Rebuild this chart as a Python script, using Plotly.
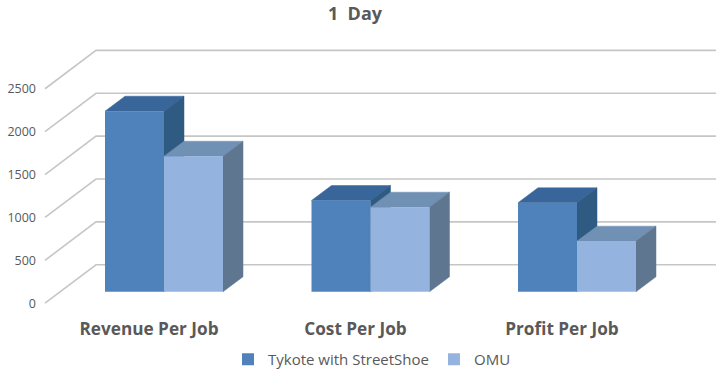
import plotly.graph_objects as go

title = "1 Day"
categories = ["Revenue Per Job", "Cost Per Job", "Profit Per Job"]
series_names = ["Tykote with StreetShoe", "OMU"]
tykote = [2105, 1064, 1037]
omu = [1580, 986, 590]
y_ticks = [0, 500, 1000, 1500, 2000, 2500]

# colours: front, top, side
FACE = [("#4f82bb", "#38659a", "#2f5a82"), ("#94b4df", "#7090b4", "#5f7691")]
GRID = "#c6c6c6"
TEXT = "#595959"

W, H = 720, 376
PLOT_H = 315          # plot frame height from the top of the page
PX_CAT = 206.5        # px per category
PX_500 = 43.0         # px per 500 units
ux = 1 / PX_CAT       # category units per px
uy = 500 / PX_500     # value units per px

CAT0_AXIS = 149       # px of the first category centre on the front axis plane
ZERO_AXIS = 304       # px of value 0 on the front axis plane
BAR_DX, BAR_DY = 15, 11.5     # bars' front plane offset from the axis plane
WALL_DX, WALL_DY = 51, 38.5   # back wall offset from the axis plane
DEPTH_DX, DEPTH_DY = 20, 15   # bar depth
AXIS_LEFT = 45
WALL_W = 620
BAR_W = 59 * ux

xr = [(0 - CAT0_AXIS) * ux, (W - CAT0_AXIS) * ux]
yr = [(ZERO_AXIS - PLOT_H) * uy, ZERO_AXIS * uy]

fig = go.Figure()

# back wall gridlines and their slanted floor/side parts
gx0 = (AXIS_LEFT - CAT0_AXIS) * ux
for t in y_ticks:
    fig.add_trace(go.Scatter(
        x=[gx0, gx0 + WALL_DX * ux, gx0 + (WALL_DX + WALL_W) * ux],
        y=[t, t + WALL_DY * uy, t + WALL_DY * uy],
        mode="lines", line=dict(color=GRID, width=1.6),
        showlegend=False, hoverinfo="skip", xaxis="x", yaxis="y"))


def poly(xs, ys, color):
    fig.add_trace(go.Scatter(
        x=xs + xs[:1], y=ys + ys[:1], mode="lines", fill="toself",
        fillcolor=color, line=dict(color=color, width=0.5),
        showlegend=False, hoverinfo="skip", xaxis="x", yaxis="y"))


# top and side faces, in the axis-plane frame, drawn below the front faces
for s, values in enumerate([tykote, omu]):
    for i, v in enumerate(values):
        L = i + (s - 1) * BAR_W + BAR_DX * ux
        R = L + BAR_W
        b = BAR_DY * uy
        dx, dy = DEPTH_DX * ux, DEPTH_DY * uy
        poly([L, R, R + dx, L + dx], [v + b, v + b, v + b + dy, v + b + dy], FACE[s][1])
        poly([R, R, R + dx, R + dx], [b, v + b, v + b + dy, b + dy], FACE[s][2])

# front faces, on an overlay subplot shifted to the bars' plane
xs = list(range(len(categories)))
for s, values in enumerate([tykote, omu]):
    fig.add_trace(go.Bar(
        x=xs, y=values, name=series_names[s],
        marker=dict(color=FACE[s][0], line=dict(width=0)),
        xaxis="x2", yaxis="y2"))

domain_y = [(H - PLOT_H) / H, 1]
fig.update_layout(
    width=W, height=H, margin=dict(l=0, r=0, t=0, b=0),
    paper_bgcolor="white", plot_bgcolor="white",
    barmode="group", bargap=1 - 2 * BAR_W, bargroupgap=0,
    font=dict(family="Open Sans", color=TEXT),
    title=dict(text="<b>" + title.replace(" ", "&nbsp;&nbsp;") + "</b>", x=355 / W, xanchor="center",
               y=1 - 14 / H, yanchor="middle", font=dict(size=18, color=TEXT, family="Open Sans")),
    xaxis=dict(range=xr, domain=[0, 1], tickmode="array", tickvals=xs,
               ticktext=["<b>%s</b>" % c for c in categories],
               tickfont=dict(size=17.2, color=TEXT, family="Open Sans"),
               ticklabelstandoff=3,
               showgrid=False, zeroline=False, showline=False, ticks=""),
    yaxis=dict(range=yr, domain=domain_y, anchor="free", position=36 / W,
               tickmode="array", tickvals=y_ticks, ticktext=[str(t) for t in y_ticks],
               tickfont=dict(size=12.5, color=TEXT, family="Open Sans"),
               showgrid=False, zeroline=False, showline=False, ticks=""),
    xaxis2=dict(range=[xr[0] - BAR_DX * ux, xr[1] - BAR_DX * ux], overlaying="x",
                visible=False),
    yaxis2=dict(range=[yr[0] - BAR_DY * uy, yr[1] - BAR_DY * uy], domain=domain_y,
                overlaying="y", visible=False, anchor="x2"),
    legend=dict(orientation="h", x=228 / W, xanchor="left", y=1 - 360 / H, yanchor="middle",
                font=dict(size=15, color=TEXT, family="Open Sans"),
                bgcolor="rgba(0,0,0,0)", traceorder="normal"),
)
fig.write_html("out.html", config=dict(displayModeBar=False),
               post_script="document.body.style.margin='0';")
